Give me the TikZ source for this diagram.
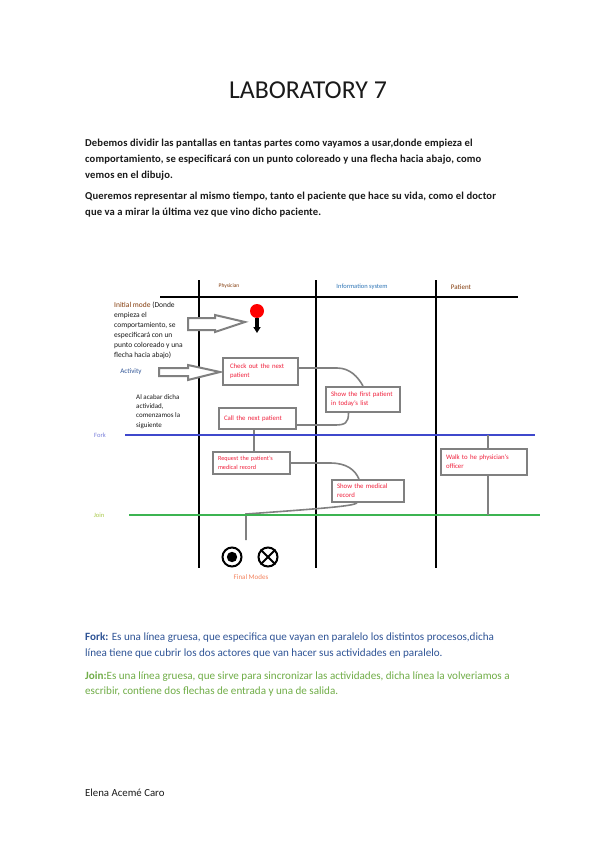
\documentclass[tikz,border=0pt]{standalone}
\usepackage{fontspec}
\setmainfont{Carlito}
\usetikzlibrary{arrows.meta}
\definecolor{boxgray}{HTML}{808080}
\definecolor{boxred}{HTML}{F0203C}
\definecolor{forkblue}{HTML}{3F48CC}
\definecolor{joingreen}{HTML}{3CB451}
\definecolor{txtblue}{HTML}{2F5496}
\definecolor{txtgreen}{HTML}{70AD47}
\definecolor{bodyblack}{HTML}{1A1A1A}
\definecolor{brownlbl}{HTML}{843C0C}
\definecolor{infoblue}{HTML}{2E75B6}
\definecolor{orangelbl}{HTML}{F4845F}
\definecolor{joinlbl}{HTML}{A9C94A}
\tikzset{
  body/.style={anchor=west, inner sep=0pt, text=bodyblack, font=\fontsize{11.1}{13}\selectfont},
  actbox/.style={draw=boxgray, line width=2pt, fill=white, text=boxred, align=left,
    font=\fontsize{6.8}{9}\selectfont, inner xsep=5pt, inner ysep=0pt, anchor=center},
  conn/.style={draw=boxgray, line width=1.6pt},
  lane/.style={line width=2.4pt, black},
  tiny/.style={inner sep=0pt, font=\fontsize{6.5}{10}\selectfont},
  hollow/.style={draw=boxgray, line width=2pt, fill=white, line join=miter},
}
\begin{document}
\begin{tikzpicture}[x=1pt,y=-1pt]
\useasboundingbox[fill=white] (0,0) rectangle (599,848);

% title
\node[inner sep=0pt, font=\fontsize{25.8}{30}\selectfont, text=bodyblack] (title) at (308,90) {LABORATORY 7};

% intro text
\tikzset{intro/.style={body, font=\bfseries\fontsize{10.6}{13}\selectfont\addfontfeatures{LetterSpace=1.2}}}
\node[intro] (p1) at (85,144) {Debemos dividir las pantallas en tantas partes como vayamos a usar,donde empieza el};
\node[intro] (p2) at (85,160) {comportamiento, se especificará con un punto coloreado y una flecha hacia abajo, como};
\node[intro] (p3) at (85,176) {vemos en el dibujo.};
\node[intro] (p4) at (85,197) {Queremos representar al mismo tiempo, tanto el paciente que hace su vida, como el doctor};
\node[intro] (p5) at (85,213) {que va a mirar la última vez que vino dicho paciente.};

% swimlane frame
\coordinate (hL) at (160,297);
\coordinate (hR) at (518,297);
\draw[lane] (hL) -- (hR);
\coordinate (v1t) at (199,280); \coordinate (v1b) at (199,568);
\coordinate (v2t) at (316,280); \coordinate (v2b) at (316,568);
\coordinate (v3t) at (436,280); \coordinate (v3b) at (436,568);
\draw[lane] (v1t) -- (v1b);
\draw[lane] (v2t) -- (v2b);
\draw[lane] (v3t) -- (v3b);

\node[tiny, font=\fontsize{5.5}{7}\selectfont, text=brownlbl] (phys) at (229,286) {Physician};
\node[tiny, text=infoblue] (info) at (362,287) {Information system};
\node[tiny, font=\fontsize{7}{8}\selectfont, text=brownlbl] (pat) at (461,287) {Patient};

% initial node
\node[circle, fill=red, minimum size=14pt, inner sep=0pt] (init) at (257,311) {};
\coordinate (initEnd) at (257,333);
\draw[line width=4.5pt, -{Triangle[length=6pt,width=7pt]}] (init.south) -- (initEnd);

% initial mode explanation
\node[tiny, anchor=north west, align=left, text=bodyblack, font=\fontsize{7.5}{10}\selectfont] (initTxt) at (114,302)
  {\textcolor{brownlbl}{Initial mode} (Donde\\empieza el\\comportamiento, se\\especificará con un\\punto coloreado y una\\flecha hacia abajo)};
\draw[hollow] (188,318) -- (215,318) -- (215,315) -- (245,322) -- (215,332) -- (215,330) -- (188,330) -- cycle;

% activity label and arrow
\node[tiny, text=txtblue, font=\fontsize{7}{9}\selectfont] (actLbl) at (131,372) {Activity};
\draw[hollow] (159,368) -- (188,368) -- (188,365) -- (220,372) -- (188,380) -- (188,376) -- (159,376) -- cycle;

% boxes
\node[actbox, minimum width=75pt, minimum height=27pt, text width=61pt, inner xsep=7pt] (check) at (260.5,371.5) {Check out the next\\patient};
\node[actbox, minimum width=74pt, minimum height=25pt, text width=64pt] (show) at (363,399.5) {Show the first patient\\in today's list};
\node[actbox, minimum width=77pt, minimum height=21pt, text width=67pt] (call) at (257.5,418.5) {Call the next patient};
\node[actbox, minimum width=77pt, minimum height=22pt, text width=67pt, font=\fontsize{6.2}{9}\selectfont] (request) at (251.5,463) {Request the patient's\\medical record};
\node[actbox, minimum width=72pt, minimum height=22pt, text width=62pt] (showmed) at (368,491) {Show the medical\\record};
\node[actbox, minimum width=86pt, minimum height=26pt, text width=76pt] (walk) at (484,462) {Walk to he physician's\\officer};

% explanation next to call
\node[tiny, anchor=north west, align=left, font=\fontsize{7}{9.4}\selectfont, text=bodyblack] (acabar) at (136,394)
  {Al acabar dicha\\actividad,\\comenzamos la\\siguiente};

% connectors
\draw[conn] ([yshift=3.5pt]check.east) -- (337,368) .. controls (350,368) and (358,377) .. (show.north);
\draw[conn] ([xshift=-14.5pt]show.south) .. controls (348.5,423) and (345,425) .. (335,425) -- ([yshift=-6.5pt]call.east);
\draw[conn] ([xshift=-3.5pt]call.south) -- ([xshift=2.5pt]request.north);
\draw[conn] (request.east) -- (330,463) .. controls (347,463) and (355,470) .. ([xshift=-9pt]showmed.north);
\coordinate (jn) at (246,514);
\coordinate (jend) at (246,540);
\draw[conn] ([xshift=-11pt]showmed.south) .. controls (352,506) and (330,508) .. (jn) -- (jend);

% fork
\coordinate (forkL) at (125,435);
\coordinate (forkR) at (535,435);
\draw[forkblue, line width=2.6pt] (forkL) -- (forkR);
\node[tiny, text=forkblue!70!white] (forkLbl) at (100,435) {Fork};
\coordinate (fk) at (488,435);
\draw[conn] (fk) -- (fk |- walk.north);

% join
\coordinate (joinL) at (129,515);
\coordinate (joinR) at (540,515);
\draw[joingreen, line width=2pt] (joinL) -- (joinR);
\node[tiny, text=joinlbl] (joinLbl) at (99,515) {Join};
\coordinate (jw) at (488,515);
\draw[conn] (walk.south -| jw) -- (jw);

% final nodes
\node[circle, draw, line width=2pt, minimum size=19pt, inner sep=0pt] (fin1) at (232,557) {};
\fill (fin1.center) circle (5.2);
\node[circle, draw, line width=2pt, minimum size=19pt, inner sep=0pt] (fin2) at (268,557) {};
\draw[line width=2pt] (fin2.north east) -- (fin2.south west);
\draw[line width=2pt] (fin2.north west) -- (fin2.south east);
\node[tiny, text=orangelbl, font=\fontsize{7}{9}\selectfont] (finLbl) at (251,577) {Final Modes};

% bottom explanation
\node[body, text=txtblue] (f1) at (85,638) {\textbf{Fork:} Es una línea gruesa, que especifica que vayan en paralelo los distintos procesos,dicha};
\node[body, text=txtblue] (f2) at (85,654) {línea tiene que cubrir los dos actores que van hacer sus actividades en paralelo.};
\node[body, text=txtgreen] (j1) at (85,677) {\textbf{Join:}Es una línea gruesa, que sirve para sincronizar las actividades, dicha línea la volveriamos a};
\node[body, text=txtgreen] (j2) at (85,692) {escribir, contiene dos flechas de entrada y una de salida.};

% author
\node[body, font=\fontsize{10.8}{13}\selectfont] (author) at (85,793) {Elena Acemé Caro};
\end{tikzpicture}
\end{document}
